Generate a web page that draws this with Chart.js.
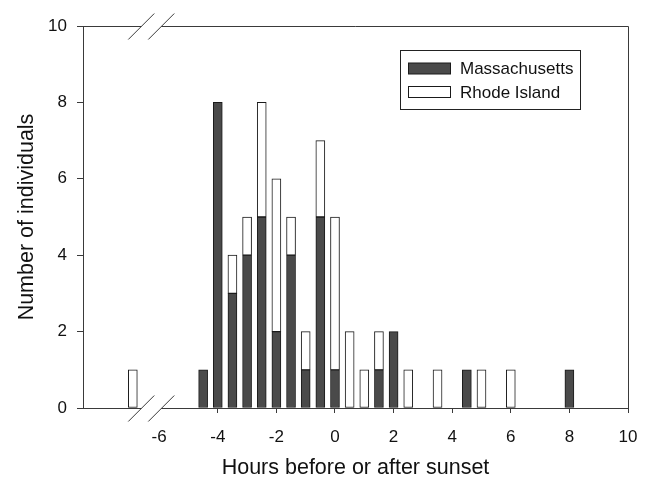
<!DOCTYPE html>
<html>
<head>
<meta charset="utf-8">
<script src="https://cdn.jsdelivr.net/npm/chart.js@4"></script>
<style>
	html, body {margin: 0; padding: 0; background: #fff;}
	#wrap {width: 647px; height: 481px; position: relative;}
</style>
</head>
<body>
<div id="wrap"><canvas id="chart"></canvas></div>
<script>
// hours relative to sunset (the first bar sits left of the axis break)
const HOURS = [-6.9, -4.5, -4, -3.5, -3, -2.5, -2, -1.5, -1, -0.5, 0, 0.5, 1, 1.5, 2, 2.5, 3.5, 4.5, 5, 6, 8];
const MASSACHUSETTS = [0, 1, 8, 3, 4, 5, 2, 4, 1, 5, 1, 0, 0, 1, 2, 0, 0, 1, 0, 0, 1];
const RHODE_ISLAND = [1, 0, 0, 1, 1, 3, 4, 1, 1, 2, 4, 2, 1, 1, 0, 1, 1, 0, 1, 1, 0];
const X_TICKS = [-6, -4, -2, 0, 2, 4, 6, 8, 10];
const Y_TICKS = [0, 2, 4, 6, 8, 10];
const BREAK_AT = -6.27;

const FONT = 'Liberation Sans, Arial, sans-serif';
const AXIS_COLOR = '#3a3a3a';

function toPoints(values) {
	return HOURS.map((h, i) => ({x: h, y: values[i] || null}));
}

// frame on top/right, axis break marks, and the boxed legend
const decorations = {
	id: 'decorations',
	afterDraw(chart) {
		const {ctx, chartArea: a, scales} = chart;
		ctx.save();
		ctx.strokeStyle = AXIS_COLOR;
		ctx.lineWidth = 1;
		ctx.beginPath();
		ctx.moveTo(a.left, a.top + 0.5);
		ctx.lineTo(a.right + 0.5, a.top + 0.5);
		ctx.lineTo(a.right + 0.5, a.bottom);
		ctx.stroke();

		const cx = scales.x.getPixelForValue(BREAK_AT);
		[a.top + 0.5, a.bottom + 0.5].forEach(y => {
			ctx.fillStyle = '#fff';
			ctx.fillRect(cx - 10, y - 1.5, 20, 3);
			ctx.beginPath();
			[-10, 10].forEach(off => {
				ctx.moveTo(cx + off - 13, y + 13);
				ctx.lineTo(cx + off + 13, y - 13);
			});
			ctx.stroke();
		});

		// legend
		const lx = 400, ly = 50, lw = 180, lh = 59;
		ctx.strokeStyle = '#222';
		ctx.strokeRect(lx + 0.5, ly + 0.5, lw, lh);
		ctx.font = '17px ' + FONT;
		ctx.textBaseline = 'middle';
		chart.data.datasets.forEach((ds, i) => {
			const ry = ly + 18.5 + i * 23.5;
			ctx.fillStyle = ds.backgroundColor;
			ctx.fillRect(lx + 8.5, ry - 5.5, 42, 11);
			ctx.strokeStyle = ds.borderColor;
			ctx.strokeRect(lx + 8.5, ry - 5.5, 42, 11);
			ctx.fillStyle = '#111';
			ctx.fillText(ds.label, lx + 60, ry + 1);
		});
		ctx.restore();
	}
};

new Chart(document.getElementById('chart'), {
	type: 'bar',
	data: {
		datasets: [
			{
				label: 'Massachusetts',
				data: toPoints(MASSACHUSETTS),
				backgroundColor: '#4a4a4a',
				borderColor: '#1a1a1a',
				borderWidth: 1,
				borderSkipped: false,
				barThickness: 9
			},
			{
				label: 'Rhode Island',
				data: toPoints(RHODE_ISLAND),
				backgroundColor: '#ffffff',
				borderColor: '#1a1a1a',
				borderWidth: 1,
				borderSkipped: false,
				barThickness: 9
			}
		]
	},
	options: {
		responsive: true,
		maintainAspectRatio: false,
		animation: false,
		layout: {padding: {left: 14, top: 26, right: 19, bottom: 0}},
		plugins: {
			legend: {display: false},
			tooltip: {enabled: false}
		},
		scales: {
			x: {
				type: 'linear',
				stacked: true,
				offset: false,
				min: -8.6,
				max: 10,
				afterBuildTicks: s => { s.ticks = X_TICKS.map(v => ({value: v})); },
				afterFit: s => {
					s.height = 73;
					s.paddingLeft = 0;
					s.paddingRight = 0;
				},
				grid: {
					offset: false,
					drawOnChartArea: false,
					tickLength: 5,
					tickColor: c => (c.tick && c.tick.value === -6 ? 'rgba(0,0,0,0)' : AXIS_COLOR)
				},
				border: {color: AXIS_COLOR},
				ticks: {
					color: '#111',
					padding: 14,
					maxRotation: 0,
					font: {family: FONT, size: 17}
				},
				title: {
					display: true,
					text: 'Hours before or after sunset',
					color: '#111',
					font: {family: FONT, size: 21.5},
					padding: {top: 7, bottom: 0}
				}
			},
			y: {
				stacked: true,
				min: 0,
				max: 10,
				afterBuildTicks: s => { s.ticks = Y_TICKS.map(v => ({value: v})); },
				afterFit: s => { s.width = 69; },
				grid: {
					drawOnChartArea: false,
					tickLength: 6,
					tickColor: AXIS_COLOR
				},
				border: {color: AXIS_COLOR},
				ticks: {
					color: '#111',
					padding: 10,
					font: {family: FONT, size: 17}
				},
				title: {
					display: true,
					text: 'Number of individuals',
					color: '#111',
					font: {family: FONT, size: 21.5},
					padding: {top: 0, bottom: 0}
				}
			}
		}
	},
	plugins: [decorations]
});
</script>
</body>
</html>
